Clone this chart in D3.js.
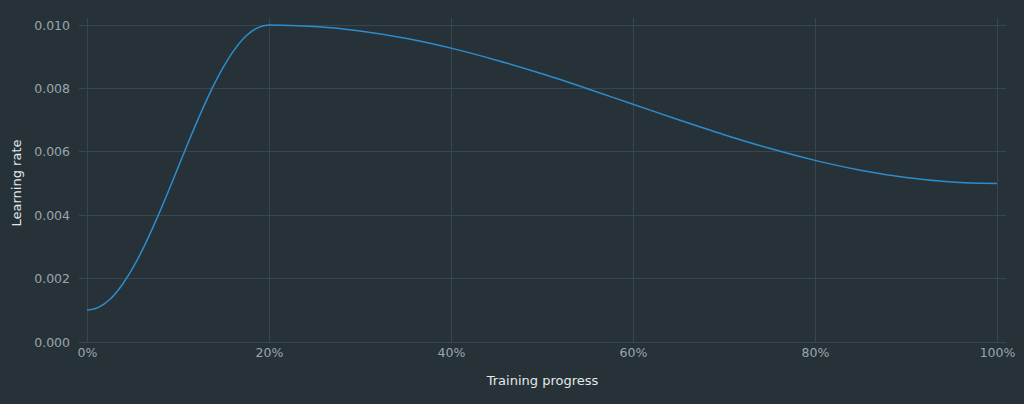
<!DOCTYPE html>
<html><head><meta charset="utf-8">
<script src="https://cdn.jsdelivr.net/npm/d3@7"></script>
<style>
html,body{margin:0;padding:0;background:#263238;}
svg{display:block;}
</style></head>
<body>
<svg id="chart" width="1024" height="404"></svg>
<script>
// Training progress (fraction) and learning rate
const progress = [0, 0.0125, 0.025, 0.0375, 0.05, 0.0625, 0.075, 0.0875, 0.1, 0.1125, 0.125, 0.1375, 0.15, 0.1625, 0.175, 0.1875, 0.2,
  0.25, 0.3, 0.35, 0.4, 0.45, 0.5, 0.55, 0.6, 0.65, 0.7, 0.75, 0.8, 0.85, 0.9, 0.95, 1.0];
const learningRate = [0.00100, 0.00109, 0.00134, 0.00176, 0.00232, 0.00300, 0.00378, 0.00462, 0.00550, 0.00638, 0.00722, 0.00800, 0.00868, 0.00924, 0.00966, 0.00991, 0.01000,
  0.00995, 0.00981, 0.00958, 0.00927, 0.00889, 0.00846, 0.00799, 0.00750, 0.00701, 0.00654, 0.00611, 0.00573, 0.00542, 0.00519, 0.00505, 0.00500];
const xTicks = [0, 0.2, 0.4, 0.6, 0.8, 1.0];
const yTicks = [0, 0.002, 0.004, 0.006, 0.008, 0.010];
const xTitle = "Training progress";
const yTitle = "Learning rate";

const svg = d3.select("#chart");
const W = 1024, H = 404;
const plot = {left: 79, right: 1006, top: 18, bottom: 342};

const x = d3.scaleLinear().domain([0, 1]).range([87, 997]);
const y = d3.scaleLinear().domain([0, 0.010]).range([342, 25]);

svg.append("rect").attr("width", W).attr("height", H).attr("fill", "#263238");

const gridColor = "#38464e";
svg.append("g").selectAll("line").data(yTicks).join("line")
  .attr("x1", plot.left).attr("x2", plot.right)
  .attr("y1", d => y(d)).attr("y2", d => y(d))
  .attr("stroke", gridColor).attr("stroke-width", 1)
  .attr("shape-rendering", "crispEdges");
svg.append("g").selectAll("line").data(xTicks).join("line")
  .attr("x1", d => x(d)).attr("x2", d => x(d))
  .attr("y1", plot.top).attr("y2", plot.bottom)
  .attr("stroke", gridColor).attr("stroke-width", 1)
  .attr("shape-rendering", "crispEdges");

const font = "'DejaVu Sans', sans-serif";
const tickColor = "#9aa6ad";

const xAxis = d3.axisBottom(x).tickValues(xTicks).tickFormat(d3.format(".0%")).tickSize(0).tickPadding(0);
const gx = svg.append("g").attr("transform", `translate(0,${plot.bottom + 6})`).call(xAxis);
gx.select(".domain").remove();
gx.selectAll("text").attr("fill", tickColor).attr("font-family", font).attr("font-size", 12.5).attr("dy", "0.71em");

const yAxis = d3.axisLeft(y).tickValues(yTicks).tickFormat(d3.format(".3f")).tickSize(0).tickPadding(0);
const gy = svg.append("g").attr("transform", `translate(${70},0)`).call(yAxis);
gy.select(".domain").remove();
gy.selectAll("text").attr("fill", tickColor).attr("font-family", font).attr("font-size", 12.5);

const data = progress.map((p, i) => ({p, v: learningRate[i]}));
const line = d3.line().x(d => x(d.p)).y(d => y(d.v)).curve(d3.curveMonotoneX);
svg.append("path").datum(data).attr("d", line)
  .attr("fill", "none").attr("stroke", "#2e8ccd").attr("stroke-width", 1.5);

svg.append("text").attr("x", (plot.left + plot.right) / 2).attr("y", 385)
  .attr("text-anchor", "middle").attr("fill", "#e3e8ea").attr("font-family", font).attr("font-size", 13)
  .text(xTitle);
svg.append("text").attr("transform", `translate(21,${(plot.top + plot.bottom) / 2 + 3}) rotate(-90)`)
  .attr("text-anchor", "middle").attr("fill", "#e3e8ea").attr("font-family", font).attr("font-size", 13)
  .text(yTitle);
</script>
</body></html>
